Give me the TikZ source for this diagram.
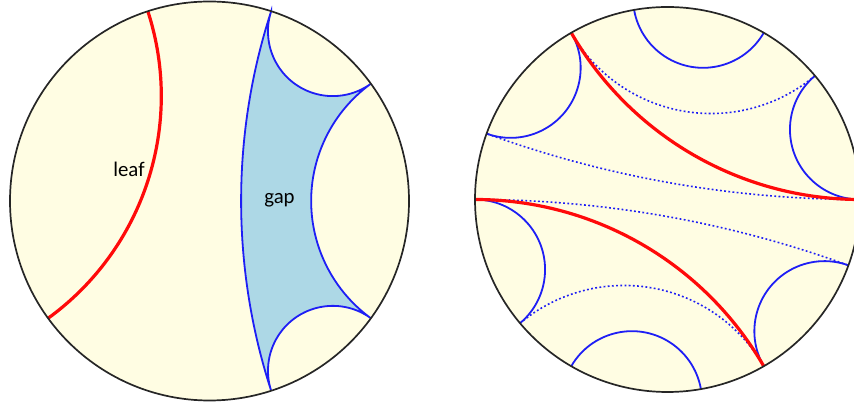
\documentclass[tikz,border=0pt]{standalone}
\usepackage{fontspec}
\setmainfont{Carlito}
\definecolor{disk}{HTML}{FFFDE3}
\definecolor{gapfill}{HTML}{ADD8E6}
\definecolor{geoblue}{HTML}{1E1EF5}
\definecolor{leafred}{HTML}{FF0A0A}
% geodesic of the unit disk, boundary angle #1 to boundary angle #2
\newcommand\geoarc[2]{arc[start angle={#1+180+90*sign(#2-#1)},end angle={#2+180-90*sign(#2-#1)},radius={tan(abs(#2-#1)/2)}]}

\begin{document}
\begin{tikzpicture}[x=.5pt,y=.5pt,
  rim/.style={draw=black!85,line width=.85pt},
  leaf/.style={draw=leafred,line width=1.6pt},
  side/.style={draw=geoblue,line width=.9pt},
  ghost/.style={draw=geoblue,line width=.8pt,dash pattern=on .9pt off 1.2pt},
  word/.style={font=\fontsize{10.4}{12}\selectfont,anchor=base}]
\useasboundingbox (0,0) rectangle (854,405);
\clip (0,0) rectangle (854,405);

% LEFT DISK: ONE LEAF AND ONE GAP
\begin{scope}[shift={(209.5,204)},scale=199.5]
\fill[disk] (0,0) circle[radius=1];
\filldraw[side,fill=gapfill] (72:1) \geoarc{72}{36} \geoarc{36}{-36} \geoarc{-36}{-72} \geoarc{-72}{72} -- cycle;
\draw[leaf] (108:1) \geoarc{108}{216};
\draw[rim] (0,0) circle[radius=1];
\end{scope}
\node[word] (leafword) at (129,228.3) {leaf};
\node[word] (gapword) at (279.5,201.7) {gap};

% RIGHT DISK: TWO LEAVES WITH SOLID AND DOTTED BLUE GEODESICS
\begin{scope}[shift={(667.5,205.5)},scale=192.5]
\fill[disk] (0,0) circle[radius=1];
\foreach \a/\b in {40/120,220/300,0/160,180/340}
  \draw[ghost] (\a:1) \geoarc{\a}{\b};
\foreach \a/\b in {60/100,120/160,0/40,180/220,240/280,300/340}
  \draw[side] (\a:1) \geoarc{\a}{\b};
\draw[leaf] (0:1) \geoarc{0}{120};
\draw[leaf] (180:1) \geoarc{180}{300};
\draw[rim] (0,0) circle[radius=1];
\end{scope}
\end{tikzpicture}
\end{document}
